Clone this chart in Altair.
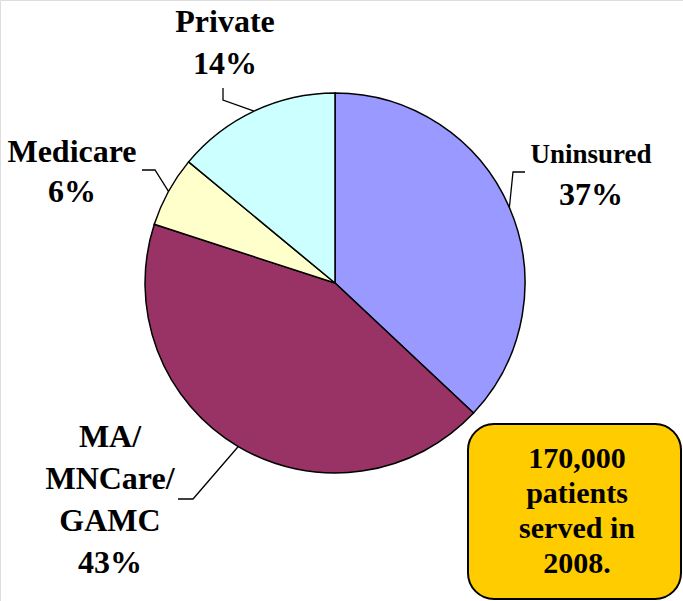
import math
import altair as alt
import pandas as pd

# ---- data ----
categories = ["Uninsured", "MA/MNCare/GAMC", "Medicare", "Private"]
shares = [37, 43, 6, 14]
colors = ["#9999FF", "#993366", "#FFFFCC", "#CCFFFF"]
label_lines = {
    "Uninsured": ["Uninsured", "37%"],
    "MA/MNCare/GAMC": ["MA/", "MNCare/", "GAMC", "43%"],
    "Medicare": ["Medicare", "6%"],
    "Private": ["Private", "14%"],
}
box_lines = ["170,000", "patients", "served in", "2008."]

# ---- layout ----
W, H = 683, 601
CX, CY, R = 335, 283, 190
FONT = "Liberation Serif"

pie_df = pd.DataFrame({"category": categories, "value": shares, "idx": range(len(categories))})

pie = alt.Chart(pie_df).mark_arc(radius=R, stroke="black", strokeWidth=1.5).encode(
    theta=alt.Theta("value:Q", stack=True),
    color=alt.Color("category:N", scale=alt.Scale(domain=categories, range=colors), legend=None),
    order=alt.Order("idx:Q"),
    x=alt.value(CX),
    y=alt.value(CY),
)

# leader lines: start on the pie edge at each slice's mid angle
total = sum(shares)
elbows = {
    "Uninsured": [(513, 172), (525, 172)],
    "MA/MNCare/GAMC": [(193, 499), (178, 499)],
    "Medicare": [(155, 170), (142, 170)],
    "Private": [(223, 100), (223, 88)],
}
rows = []
cum = 0
for cat, v in zip(categories, shares):
    mid = (cum + v / 2) / total * 2 * math.pi
    cum += v
    ex, ey = CX + R * math.sin(mid), CY - R * math.cos(mid)
    pts = [(ex, ey)] + elbows[cat]
    for i, (px, py) in enumerate(pts):
        rows.append({"category": cat, "seq": i, "px": px, "py": py})
lead_df = pd.DataFrame(rows)

xs = alt.Scale(domain=[0, W], range=[0, W], nice=False, zero=False)
ys = alt.Scale(domain=[0, H], range=[0, H], nice=False, zero=False)

leaders = alt.Chart(lead_df).mark_line(color="black", strokeWidth=1.3).encode(
    x=alt.X("px:Q", scale=xs, axis=None),
    y=alt.Y("py:Q", scale=ys, axis=None),
    detail="category:N",
    order=alt.Order("seq:Q"),
)

# text placement (center x, first baseline, line step, sizes per line)
label_pos = {
    "Uninsured": (591, 163, 42, [27, 32]),
    "MA/MNCare/GAMC": (110, 447, 42, [32, 32, 32, 32]),
    "Medicare": (72, 162, 40, [32, 32]),
    "Private": (225, 32, 42, [32, 32]),
}
trows = []
for cat in categories:
    x0, y0, step, sizes = label_pos[cat]
    for i, (line, s) in enumerate(zip(label_lines[cat], sizes)):
        trows.append({"txt": line, "px": x0, "py": y0 + i * step, "sz": s})
for i, line in enumerate(box_lines):
    trows.append({"txt": line, "px": 577, "py": 468 + i * 35, "sz": 30})
text_df = pd.DataFrame(trows)

texts = alt.Chart(text_df).mark_text(
    font=FONT, fontWeight="bold", color="black", align="center", baseline="alphabetic"
).encode(
    x=alt.X("px:Q", scale=xs, axis=None),
    y=alt.Y("py:Q", scale=ys, axis=None),
    text="txt:N",
    size=alt.Size("sz:Q", scale=None, legend=None),
)

box = alt.Chart(pd.DataFrame({"a": [0]})).mark_rect(
    fill="#FFCC00", stroke="black", strokeWidth=2, cornerRadius=26
).encode(
    x=alt.value(468), x2=alt.value(681), y=alt.value(424), y2=alt.value(599)
)

chart = alt.layer(pie, leaders, box, texts).properties(
    width=W, height=H, autosize=alt.AutoSizeParams(type="none"), padding=0
).configure_view(stroke=None).configure(background="white")

chart.save("out.html", embed_options={"renderer": "svg", "actions": False})
